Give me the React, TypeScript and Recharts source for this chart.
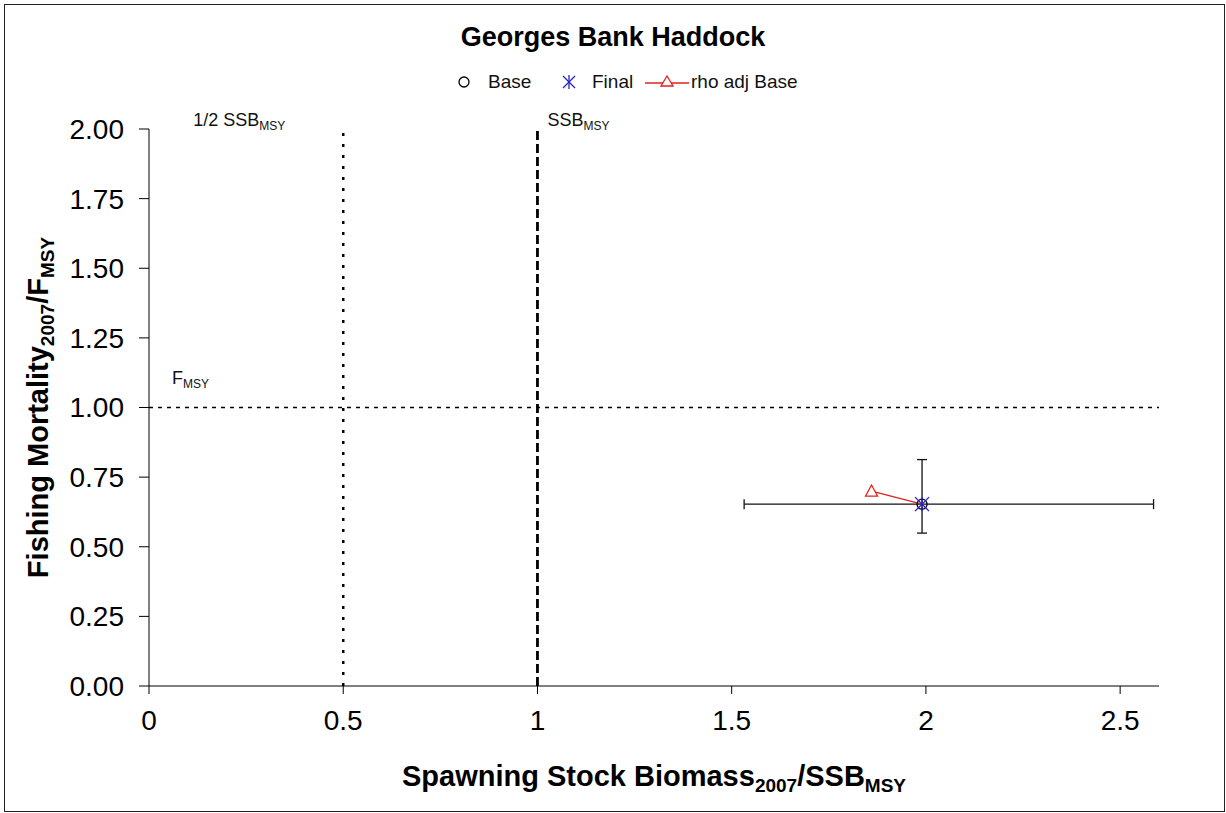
import React from "react";
import {
  ScatterChart,
  Scatter,
  XAxis,
  YAxis,
  ReferenceLine,
  ErrorBar,
  Label,
} from "recharts";

// point estimates (SSB/SSBmsy, F/Fmsy)
const baseX = [1.99];
const baseY = [0.653];
// 80% CI bounds
const ssbLow = [1.532];
const ssbHigh = [2.586];
const fLow = [0.549];
const fHigh = [0.813];
const finalX = [1.99];
const finalY = [0.653];
// rho-adjusted point, then the base point it joins to
const rhoX = [1.86, 1.99];
const rhoY = [0.7, 0.653];

const xTicks = [0, 0.5, 1, 1.5, 2, 2.5];
const yTicks = [0, 0.25, 0.5, 0.75, 1, 1.25, 1.5, 1.75, 2];

const baseData = baseX.map((x, i) => ({
  x,
  y: baseY[i],
  ex: [x - ssbLow[i], ssbHigh[i] - x],
  ey: [baseY[i] - fLow[i], fHigh[i] - baseY[i]],
}));
const finalData = finalX.map((x, i) => ({ x, y: finalY[i] }));
const rhoData = rhoX.map((x, i) => ({ x, y: rhoY[i] }));

const FONT = "Arial, 'Liberation Sans', Helvetica, sans-serif";

const Circle = (p: any) => (
  <circle cx={p.cx} cy={p.cy} r={5} fill="none" stroke="#000" strokeWidth={1.3} />
);

const Asterisk = (p: any) => {
  const { cx, cy } = p;
  const s = 7;
  return (
    <g stroke="#2222cc" strokeWidth={1.3}>
      <line x1={cx - s} y1={cy - s} x2={cx + s} y2={cy + s} />
      <line x1={cx - s} y1={cy + s} x2={cx + s} y2={cy - s} />
      <line x1={cx} y1={cy - s} x2={cx} y2={cy + s} />
    </g>
  );
};

const Triangle = (p: any) => {
  if (p.index !== 0) return <g />;
  const { cx, cy } = p;
  return (
    <polygon
      points={`${cx},${cy - 6} ${cx - 6},${cy + 5} ${cx + 6},${cy + 5}`}
      fill="#fff"
      stroke="#e02020"
      strokeWidth={1.3}
    />
  );
};

// text with a subscript part, for the line labels
const subLabel = (main: string, sub: string, dx: number, dy: number) => (props: any) => {
  const vb = props.viewBox || {};
  return (
    <text x={vb.x + dx} y={vb.y + dy} fontFamily={FONT} fontSize={18} fill="#111">
      {main}
      <tspan fontSize={12} dy={4}>{sub}</tspan>
    </text>
  );
};

const XTitle = (props: any) => {
  const vb = props.viewBox;
  return (
    <text
      x={vb.x + vb.width / 2}
      y={786}
      textAnchor="middle"
      fontFamily={FONT}
      fontSize={29}
      fontWeight="bold"
      fill="#000"
    >
      Spawning Stock Biomass
      <tspan fontSize={19} dy={6}>2007</tspan>
      <tspan dy={-6}>/SSB</tspan>
      <tspan fontSize={19} dy={6}>MSY</tspan>
    </text>
  );
};

const YTitle = (props: any) => {
  const vb = props.viewBox;
  const cy = vb.y + vb.height / 2;
  return (
    <text
      x={48}
      y={cy}
      transform={`rotate(-90, 48, ${cy})`}
      textAnchor="middle"
      fontFamily={FONT}
      fontSize={29}
      fontWeight="bold"
      fill="#000"
    >
      Fishing Mortality
      <tspan fontSize={19} dy={6}>2007</tspan>
      <tspan dy={-6}>/F</tspan>
      <tspan fontSize={19} dy={6}>MSY</tspan>
    </text>
  );
};

const legendText: React.CSSProperties = {
  position: "absolute",
  top: 0,
  fontFamily: FONT,
  fontSize: 19,
  lineHeight: "22px",
  color: "#111",
};

const Legend = () => (
  <div style={{ position: "absolute", top: 71, left: 0, width: 1226, height: 22 }}>
    <svg width={1226} height={22} style={{ position: "absolute", left: 0, top: 0 }}>
      <circle cx={464} cy={11} r={5} fill="none" stroke="#000" strokeWidth={1.3} />
      <g stroke="#2222cc" strokeWidth={1.3}>
        <line x1={563} y1={5} x2={575} y2={17} />
        <line x1={563} y1={17} x2={575} y2={5} />
        <line x1={569} y1={4} x2={569} y2={18} />
      </g>
      <line x1={645} y1={12} x2={689} y2={12} stroke="#e02020" strokeWidth={1.3} />
      <polygon points="667,5 661,15 673,15" fill="#fff" stroke="#e02020" strokeWidth={1.3} />
    </svg>
    <span style={{ ...legendText, left: 488 }}>Base</span>
    <span style={{ ...legendText, left: 592 }}>Final</span>
    <span style={{ ...legendText, left: 691 }}>rho adj Base</span>
  </div>
);

export default function App() {
  return (
    <div
      style={{
        position: "fixed",
        left: 0,
        top: 0,
        width: 1226,
        height: 813,
        background: "#fff",
      }}
    >
      <div
        style={{
          position: "absolute",
          left: 4,
          top: 4,
          width: 1221,
          height: 808,
          border: "1.5px solid #222",
          boxSizing: "border-box",
        }}
      />
      <div
        style={{
          position: "absolute",
          top: 22,
          left: 0,
          width: 1226,
          textAlign: "center",
          fontFamily: FONT,
          fontSize: 27,
          fontWeight: "bold",
          color: "#000",
        }}
      >
        Georges Bank Haddock
      </div>
      <Legend />
      <div style={{ position: "absolute", left: 0, top: 0 }}>
        <ScatterChart
          width={1226}
          height={813}
          margin={{ top: 129, right: 67, bottom: 37, left: 49 }}
        >
          <XAxis
            type="number"
            dataKey="x"
            domain={[0, 2.6]}
            ticks={xTicks}
            allowDataOverflow
            height={90}
            tickSize={8}
            tickMargin={16}
            tickFormatter={(v: number) => String(v)}
            stroke="#000"
            tick={{ fill: "#000", fontFamily: FONT, fontSize: 28 }}
          >
            <Label content={<XTitle />} />
          </XAxis>
          <YAxis
            type="number"
            dataKey="y"
            domain={[0, 2]}
            ticks={yTicks}
            allowDataOverflow
            width={100}
            tickSize={10}
            tickMargin={15}
            tickFormatter={(v: number) => v.toFixed(2)}
            stroke="#000"
            tick={{ fill: "#000", fontFamily: FONT, fontSize: 28 }}
          >
            <Label content={<YTitle />} />
          </YAxis>
          <ReferenceLine
            y={1}
            stroke="#000"
            strokeWidth={1.3}
            strokeDasharray="4 5"
            label={subLabel("F", "MSY", 23, -24)}
          />
          <ReferenceLine
            x={0.5}
            stroke="#000"
            strokeWidth={2.5}
            strokeDasharray="3 8"
            label={subLabel("1/2 SSB", "MSY", -150, -3)}
          />
          <ReferenceLine
            x={1}
            stroke="#000"
            strokeWidth={2.8}
            strokeDasharray="9 4"
            label={subLabel("SSB", "MSY", 10, -3)}
          />
          <Scatter
            name="rho adj Base"
            data={rhoData}
            line={{ stroke: "#e02020", strokeWidth: 1.3 }}
            shape={Triangle}
            isAnimationActive={false}
          />
          <Scatter name="Base" data={baseData} shape={Circle} isAnimationActive={false}>
            <ErrorBar dataKey="ex" direction="x" width={5} stroke="#111" strokeWidth={1.3} />
            <ErrorBar dataKey="ey" direction="y" width={5} stroke="#111" strokeWidth={1.3} />
          </Scatter>
          <Scatter name="Final" data={finalData} shape={Asterisk} isAnimationActive={false} />
        </ScatterChart>
      </div>
    </div>
  );
}
